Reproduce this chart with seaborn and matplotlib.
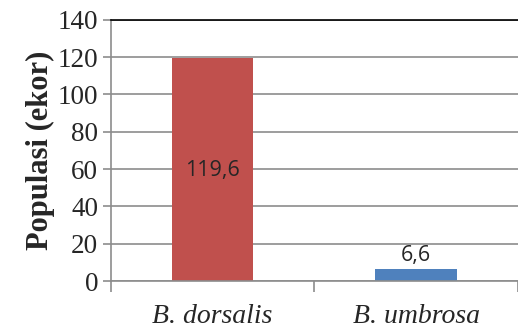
import matplotlib
matplotlib.use("Agg")
import matplotlib.pyplot as plt
import seaborn as sns
import pandas as pd

species = ["B. dorsalis", "B. umbrosa"]
populasi = [119.6, 6.6]
labels = ["119,6", "6,6"]
colors = ["#C0504D", "#4F81BD"]

df = pd.DataFrame({"spesies": species, "populasi": populasi})

sns.set_style("white")
plt.rcParams["font.family"] = ["Liberation Serif", "DejaVu Serif"]

fig = plt.figure(figsize=(5.18, 3.31), dpi=100)
ax = fig.add_axes([0.214, 0.151, 0.786, 0.789])

sns.barplot(data=df, x="spesies", y="populasi", hue="spesies",
            palette=colors, width=0.4, legend=False, ax=ax, saturation=1,
            linewidth=0)

ax.set_ylim(0, 140)
ax.set_xlim(-0.5, 1.5)
ax.set_yticks(range(0, 141, 20))
ax.yaxis.grid(True, color="#8c8c8c", linewidth=1.2)
ax.set_axisbelow(True)

ax.spines["right"].set_visible(False)
ax.spines["top"].set_color("black")
ax.spines["top"].set_linewidth(1.2)
for s in ["left", "bottom"]:
    ax.spines[s].set_color("#8c8c8c")
    ax.spines[s].set_linewidth(1.2)

ax.tick_params(axis="y", which="major", left=True, length=6, width=1.2,
               color="#8c8c8c", labelsize=19.5, pad=3)
ax.tick_params(axis="x", which="major", bottom=False, labelsize=20, pad=13)
ax.set_xticks([-0.5, 0.5, 1.5], minor=True)
ax.tick_params(axis="x", which="minor", bottom=True, length=8, width=1.2,
               color="#8c8c8c")
for t in ax.get_xticklabels():
    t.set_fontstyle("italic")

ax.set_xlabel("")
ax.set_ylabel("Populasi (ekor)", fontsize=22, fontweight="bold", labelpad=2)

# value labels
ax.text(0, 59, labels[0], ha="center", va="center", fontsize=15.5,
        family=["Open Sans", "DejaVu Sans"])
ax.text(1, populasi[1] + 1.5, labels[1], ha="center", va="bottom", fontsize=15.5,
        family=["Open Sans", "DejaVu Sans"])

fig.savefig("out.png", dpi=100)
